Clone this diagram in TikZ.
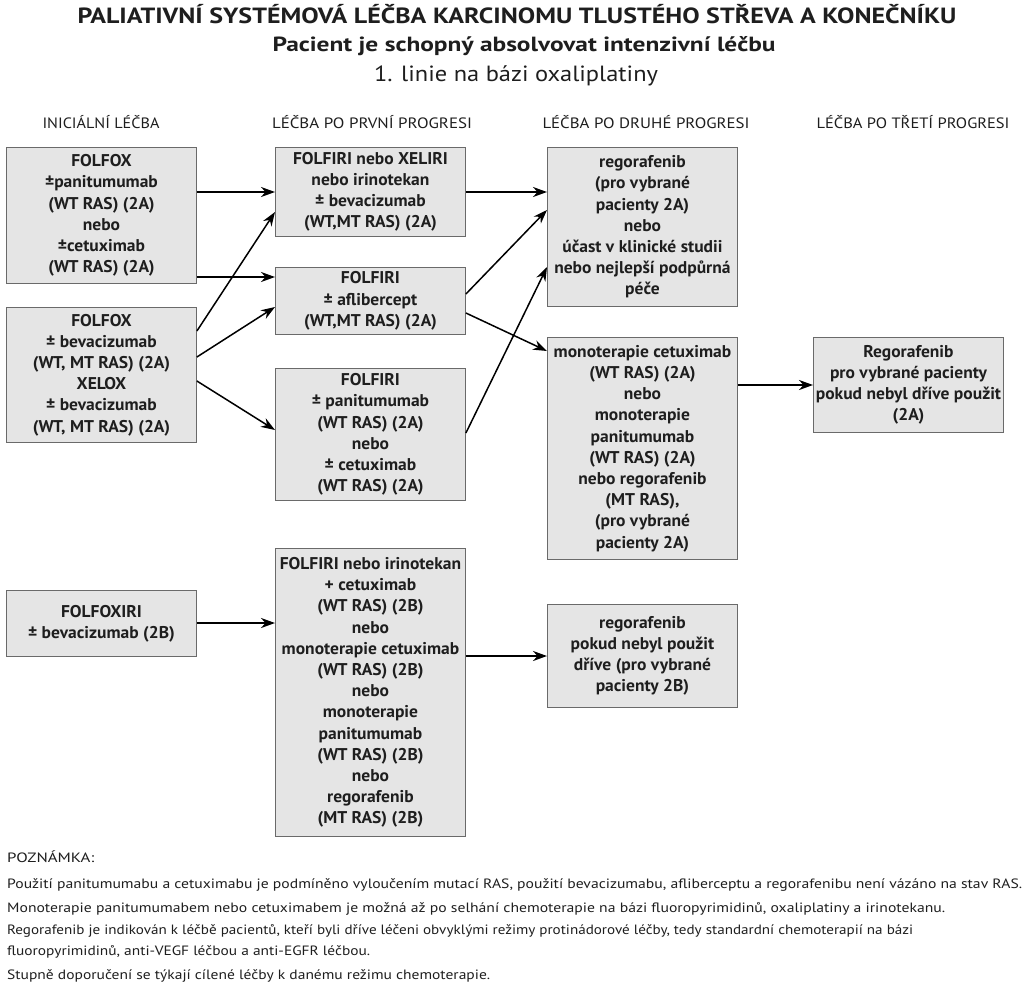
\documentclass[tikz,border=0pt]{standalone}
\usepackage{graphicx}
\usepackage{fontspec}
\setmainfont{PT Sans}
\newfontfamily\boxfont{PT Sans}[FakeStretch=1.03]
\usetikzlibrary{arrows.meta}
\newlength\fitlen
\newcommand\fitto[2]{\settowidth\fitlen{#2}\scalebox{\fpeval{(#1)/(\the\fitlen)}}[1]{#2}}
\definecolor{boxfill}{HTML}{E5E5E5}
\definecolor{boxline}{HTML}{6A6A6A}
\definecolor{ink}{HTML}{1E1E1E}
\begin{document}
\begin{tikzpicture}[x=1pt,y=-1pt,
  box/.style={draw=boxline, fill=boxfill, line width=0.9pt, inner sep=0pt,
    anchor=north west, align=center, text=ink,
    font=\boxfont\bfseries\fontsize{17}{21.2}\selectfont},
  arr/.style={-{Stealth[length=14pt,width=10pt]}, line width=1.5pt, black},
  harr/.style={arr, line width=2.2pt},
  txt/.style={inner sep=0pt, text=ink}]
\useasboundingbox (0,0) rectangle (1024,988);

% titles
\node[txt, anchor=base] (t1) at (517,23) {\fitto{879pt}{\bfseries\fontsize{22}{26}\selectfont PALIATIVNÍ SYSTÉMOVÁ LÉČBA KARCINOMU TLUSTÉHO STŘEVA A KONEČNÍKU}};
\node[txt, anchor=base] (t2) at (524,51) {\fitto{503pt}{\bfseries\fontsize{20.5}{24}\selectfont Pacient je schopný absolvovat intenzivní léčbu}};
\node[txt, anchor=base] (t3) at (516,81) {\fitto{284pt}{\fontsize{22}{26}\selectfont 1. linie na bázi oxaliplatiny}};

% column headers
\node[txt, anchor=base] (h1) at (101,128) {\fitto{117pt}{\fontsize{15}{17}\selectfont INICIÁLNÍ LÉČBA}};
\node[txt, anchor=base] (h2) at (372,128) {\fitto{200pt}{\fontsize{15}{17}\selectfont LÉČBA PO PRVNÍ PROGRESI}};
\node[txt, anchor=base] (h3) at (646,128) {\fitto{207pt}{\fontsize{15}{17}\selectfont LÉČBA PO DRUHÉ PROGRESI}};
\node[txt, anchor=base] (h4) at (913,128) {\fitto{193pt}{\fontsize{15}{17}\selectfont LÉČBA PO TŘETÍ PROGRESI}};

% boxes
\node[box, minimum width=190pt, minimum height=136pt] (a1) at (6,147)
  {FOLFOX\\±panitumumab\\(WT RAS) (2A)\\nebo\\±cetuximab\\(WT RAS) (2A)};
\node[box, minimum width=190pt, minimum height=135pt] (a2) at (6,307)
  {FOLFOX\\± bevacizumab\\(WT, MT RAS) (2A)\\XELOX\\± bevacizumab\\(WT, MT RAS) (2A)};
\node[box, minimum width=190pt, minimum height=66pt] (a3) at (6,590)
  {FOLFOXIRI\\± bevacizumab (2B)};

\node[box, minimum width=190pt, minimum height=89pt] (b1) at (275,147)
  {FOLFIRI nebo XELIRI\\nebo irinotekan\\± bevacizumab\\(WT,MT RAS) (2A)};
\node[box, minimum width=190pt, minimum height=67pt] (b2) at (275,267)
  {FOLFIRI\\± aflibercept\\(WT,MT RAS) (2A)};
\node[box, minimum width=190pt, minimum height=132pt] (b3) at (275,368)
  {FOLFIRI\\± panitumumab\\(WT RAS) (2A)\\nebo\\± cetuximab\\(WT RAS) (2A)};
\node[box, minimum width=190pt, minimum height=288pt] (b4) at (275,548)
  {FOLFIRI nebo irinotekan\\+ cetuximab\\(WT RAS) (2B)\\nebo\\monoterapie cetuximab\\(WT RAS) (2B)\\nebo\\monoterapie\\panitumumab\\(WT RAS) (2B)\\nebo\\regorafenib\\(MT RAS) (2B)};

\node[box, minimum width=190pt, minimum height=159pt] (c1) at (547,147)
  {regorafenib\\(pro vybrané\\pacienty 2A)\\nebo\\účast v klinické studii\\nebo nejlepší podpůrná\\péče};
\node[box, minimum width=190pt, minimum height=222pt] (c2) at (547,337)
  {monoterapie cetuximab\\(WT RAS) (2A)\\nebo\\monoterapie\\panitumumab\\(WT RAS) (2A)\\nebo regorafenib\\(MT RAS),\\(pro vybrané\\pacienty 2A)};
\node[box, minimum width=190pt, minimum height=103pt] (c3) at (547,604)
  {regorafenib\\pokud nebyl použit\\dříve (pro vybrané\\pacienty 2B)};

\node[box, minimum width=190pt, minimum height=95pt] (d1) at (813,337)
  {Regorafenib\\pro vybrané pacienty\\pokud nebyl dříve použit\\(2A)};

% connectors
\draw[harr] (a1.east |- 0,192) -- (b1.west |- 0,192);
\draw[harr] (a1.east |- 0,277) -- (b2.west |- 0,277);
\draw[arr] (a2.east |- 0,331) -- (b1.west |- 0,212);
\draw[arr] (a2.east |- 0,357) -- (b2.west |- 0,307);
\draw[arr] (a2.east |- 0,381) -- (b3.west |- 0,430);

\draw[harr] (b1.east |- 0,192) -- (c1.west |- 0,192);
\draw[arr] (b2.east |- 0,294) -- (c1.west |- 0,210);
\draw[arr] (b2.east |- 0,313) -- (c2.west |- 0,351);
\draw[arr] (b3.east |- 0,433) -- (c1.west |- 0,267);

\draw[harr] (c2.east |- 0,385) -- (d1.west |- 0,385);
\draw[harr] (a3.east |- 0,623) -- (b4.west |- 0,623);
\draw[harr] (b4.east |- 0,656) -- (c3.west |- 0,656);

% footnote
\node[txt, anchor=base west] (f0) at (7,862) {\fitto{87pt}{\fontsize{13.5}{16}\selectfont POZNÁMKA:}};
\node[txt, anchor=base west] (f1) at (7,888) {\fitto{1015pt}{\fontsize{13.5}{16}\selectfont Použití panitumumabu a cetuximabu je podmíněno vyloučením mutací RAS, použití bevacizumabu, afliberceptu a regorafenibu není vázáno na stav RAS.}};
\node[txt, anchor=base west] (f2) at (7,912) {\fitto{938pt}{\fontsize{13.5}{16}\selectfont Monoterapie panitumumabem nebo cetuximabem je možná až po selhání chemoterapie na bázi fluoropyrimidinů, oxaliplatiny a irinotekanu.}};
\node[txt, anchor=base west] (f3) at (7,934) {\fitto{906pt}{\fontsize{13.5}{16}\selectfont Regorafenib je indikován k léčbě pacientů, kteří byli dříve léčeni obvyklými režimy protinádorové léčby, tedy standardní chemoterapií na bázi}};
\node[txt, anchor=base west] (f4) at (7,955) {\fitto{363pt}{\fontsize{13.5}{16}\selectfont fluoropyrimidinů, anti-VEGF léčbou a anti-EGFR léčbou.}};
\node[txt, anchor=base west] (f5) at (7,979) {\fitto{483pt}{\fontsize{13.5}{16}\selectfont Stupně doporučení se týkají cílené léčby k danému režimu chemoterapie.}};
\end{tikzpicture}
\end{document}
